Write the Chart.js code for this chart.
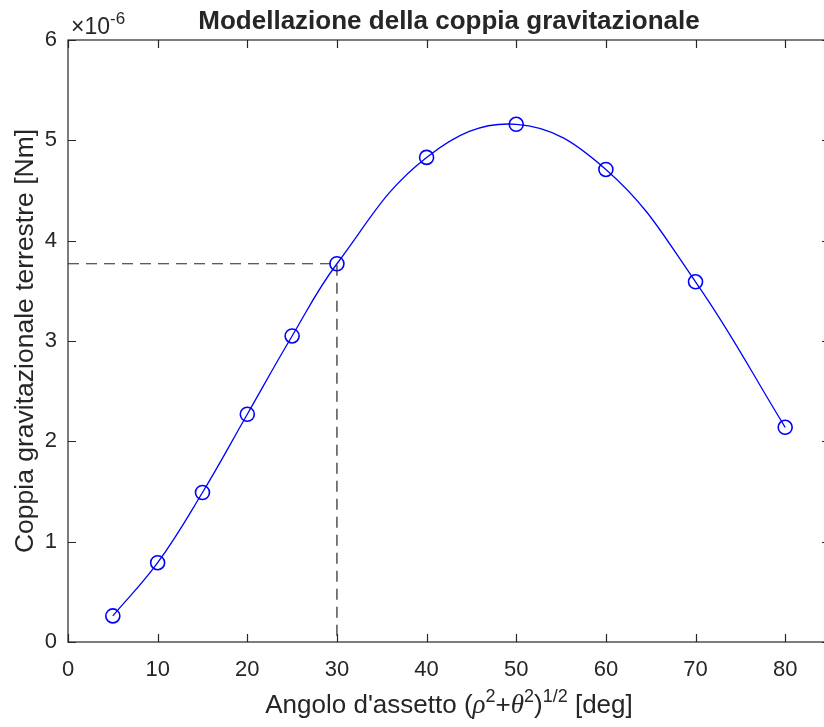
<!DOCTYPE html>
<html>
<head>
<meta charset="utf-8">
<script src="https://cdn.jsdelivr.net/npm/chart.js@4.4.1/dist/chart.umd.min.js"></script>
<style>
  html, body { margin: 0; padding: 0; background: #ffffff; overflow: hidden; }
  #wrap { position: absolute; left: 0; top: 0; width: 840px; height: 727px; }
</style>
</head>
<body>
<div id="wrap"><canvas id="c" width="840" height="727"></canvas></div>
<script>
// ---- data (torque in units of 1e-6 Nm) ----
const angles = [5, 10, 15, 20, 25, 30, 40, 50, 60, 70, 80];
const torque = [0.26, 0.79, 1.49, 2.27, 3.05, 3.77, 4.83, 5.16, 4.71, 3.59, 2.14];
const guideX = [0, 30, 30];
const guideY = [3.77, 3.77, 0];
const xTicks = [0, 10, 20, 30, 40, 50, 60, 70, 80];
const yTicks = [0, 1, 2, 3, 4, 5, 6];
const titleText = 'Modellazione della coppia gravitazionale';
const yTitleText = 'Coppia gravitazionale terrestre [Nm]';

const FONT = '"Liberation Sans", Arial, Helvetica, sans-serif';
const SERIF = '"Liberation Serif", "Times New Roman", serif';
const AX = '#262626';

const curveData = angles.map((a, i) => ({ x: a, y: torque[i] }));
const guideData = guideX.map((g, i) => ({ x: g, y: guideY[i] }));

const matlabPlugin = {
  id: 'matlabBox',
  afterDraw(chart) {
    const ctx = chart.ctx;
    const ca = chart.chartArea;
    const xs = chart.scales.x, ys = chart.scales.y;
    ctx.save();
    // box
    ctx.strokeStyle = AX;
    ctx.lineWidth = 1.2;
    ctx.strokeRect(ca.left, ca.top, ca.right - ca.left, ca.bottom - ca.top);
    const TL = 8;
    ctx.beginPath();
    xTicks.forEach(v => {
      const px = Math.round(xs.getPixelForValue(v)) + 0.5;
      ctx.moveTo(px, ca.bottom); ctx.lineTo(px, ca.bottom - TL);
      ctx.moveTo(px, ca.top); ctx.lineTo(px, ca.top + TL);
    });
    yTicks.forEach(v => {
      const py = Math.round(ys.getPixelForValue(v)) + 0.5;
      ctx.moveTo(ca.left, py); ctx.lineTo(ca.left + TL, py);
      ctx.moveTo(ca.right, py); ctx.lineTo(ca.right - TL, py);
    });
    ctx.stroke();

    ctx.fillStyle = AX;
    // title
    ctx.font = 'bold 26px ' + FONT;
    ctx.textAlign = 'center';
    ctx.textBaseline = 'alphabetic';
    ctx.fillText(titleText, (ca.left + ca.right) / 2, 29);

    // exponent label  ×10^-6
    ctx.textAlign = 'left';
    ctx.font = '23px ' + FONT;
    ctx.fillText('\u00D710', ca.left + 3, 34);
    const w1 = ctx.measureText('\u00D710').width;
    ctx.font = '17px ' + FONT;
    ctx.fillText('-6', ca.left + 3 + w1, 24);

    // y title
    ctx.save();
    ctx.translate(33, (ca.top + ca.bottom) / 2);
    ctx.rotate(-Math.PI / 2);
    ctx.font = '26.5px ' + FONT;
    ctx.textAlign = 'center';
    ctx.fillText(yTitleText, 0, 0);
    ctx.restore();

    // x title with superscripts
    const parts = [
      ['Angolo d\'assetto (', '26px ' + FONT, 0],
      ['\u03C1', 'italic 27px ' + SERIF, 0],
      ['2', '18px ' + FONT, -11],
      ['+', '26px ' + FONT, 0],
      ['\u03B8', 'italic 27px ' + SERIF, 0],
      ['2', '18px ' + FONT, -11],
      [')', '26px ' + FONT, 0],
      ['1/2', '18px ' + FONT, -11],
      [' [deg]', '26px ' + FONT, 0]
    ];
    let total = 0;
    parts.forEach(p => { ctx.font = p[1]; total += ctx.measureText(p[0]).width; });
    let x0 = (ca.left + ca.right) / 2 - total / 2;
    const base = 713;
    ctx.textAlign = 'left';
    parts.forEach(p => {
      ctx.font = p[1];
      ctx.fillText(p[0], x0, base + p[2]);
      x0 += ctx.measureText(p[0]).width;
    });
    ctx.restore();
  }
};

new Chart(document.getElementById('c'), {
  type: 'scatter',
  data: {
    datasets: [
      {
        label: 'guide',
        data: guideData,
        showLine: true,
        borderColor: '#262626',
        borderWidth: 1.2,
        borderDash: [11, 7],
        pointRadius: 0,
        tension: 0,
        fill: false
      },
      {
        label: 'torque',
        data: curveData,
        showLine: true,
        borderColor: '#0000FF',
        borderWidth: 1.3,
        tension: 0.4,
        pointRadius: 7,
        pointBorderWidth: 1.6,
        pointBackgroundColor: 'rgba(0,0,0,0)',
        pointBorderColor: '#0000FF',
        fill: false
      }
    ]
  },
  options: {
    responsive: false,
    animation: false,
    devicePixelRatio: 1,
    layout: { padding: { top: 40, right: 10, left: 0, bottom: 0 } },
    plugins: { legend: { display: false }, tooltip: { enabled: false }, title: { display: false } },
    scales: {
      x: {
        type: 'linear',
        min: 0, max: 85,
        grid: { display: false, drawTicks: false },
        border: { display: false },
        ticks: {
          stepSize: 10, includeBounds: false, padding: 15,
          color: AX, font: { family: FONT, size: 22 },
          maxRotation: 0
        },
        afterFit(s) { s.height = 85; }
      },
      y: {
        type: 'linear',
        min: 0, max: 6,
        grid: { display: false, drawTicks: false },
        border: { display: false },
        ticks: {
          stepSize: 1, padding: 11,
          color: AX, font: { family: FONT, size: 22 }
        },
        afterFit(s) { s.width = 68; }
      }
    }
  },
  plugins: [matlabPlugin]
});
</script>
</body>
</html>
